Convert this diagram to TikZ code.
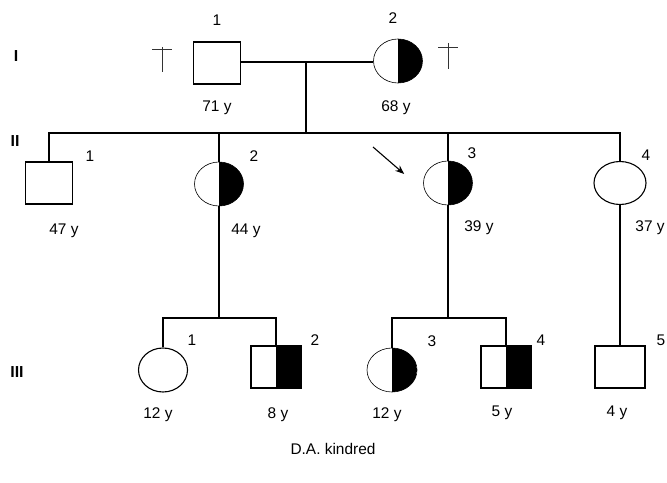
\documentclass[tikz,border=0pt]{standalone}
\usepackage{fontspec}
\setmainfont{Liberation Sans}
\usetikzlibrary{shapes.geometric,arrows.meta}
\tikzset{
  male/.style={draw,line width=1.3bp,minimum width=47bp,minimum height=42bp,inner sep=0pt},
  female/.style={draw,ellipse,line width=1.1bp,minimum width=49bp,minimum height=44bp,inner sep=0pt},
  carrier/.style={path picture={\fill[black] (path picture bounding box.north) rectangle (path picture bounding box.south east);}},
  thinrim/.style={line width=0.6bp},
  lbl/.style={inner sep=0pt,anchor=base,font=\fontsize{15.5}{18}\selectfont},
  gen/.style={inner sep=0pt,anchor=base,font=\fontsize{16}{18}\selectfont\bfseries},
  link/.style={line width=1.1bp},
  cross/.style={line width=0.7bp,black!80},
}
\begin{document}
\begin{tikzpicture}[x=1bp,y=-1bp]
            \useasboundingbox (0,0) rectangle (667,483);
            \node[male] (I1) at (217,63) {};
            \node[female,carrier,thinrim] (I2) at (398,61) {};
            \node[male] (II1) at (49,183) {};
            \node[female,carrier,thinrim] (II2) at (219,184) {};
            \node[female,carrier,thinrim] (II3) at (448,183) {};
            \node[female,minimum width=52bp,minimum height=43bp] (II4) at (620,183) {};
            \node[female] (III1) at (163,370) {};
            \node[male,carrier,minimum width=50bp] (III2) at (276,367) {};
            \node[female,carrier,thinrim,minimum width=50bp] (III3) at (392,370) {};
            \node[male,carrier,minimum width=50bp] (III4) at (506,367) {};
            \node[male,minimum width=50bp] (III5) at (620,367) {};
            \coordinate (mI) at (306,62);
            \coordinate (sII) at (306,133);
            \coordinate (sIIIa) at (219,318);
            \coordinate (sIIIb) at (448,318);
            \draw[link] (I1.east |- mI) -- (I2.west |- mI);
            \draw[link] (mI) -- (sII);
            \draw[link] (II1.north) -- (II1.north |- sII) -- (II4.north |- sII) -- (II4.north);
            \draw[link] (II2.north |- sII) -- (II2.north);
            \draw[link] (II3.north |- sII) -- (II3.north);
            \draw[link] (II2.south) -- (sIIIa);
            \draw[link] (II3.south) -- (sIIIb);
            \draw[link] (III1.north) -- (III1.north |- sIIIa) -- (III2.north |- sIIIa) -- (III2.north);
            \draw[link] (III3.north) -- (III3.north |- sIIIb) -- (III4.north |- sIIIb) -- (III4.north);
            \draw[link] (II4.south) -- (III5.north);
            \draw[link,-{Stealth[length=9bp,width=7bp]}] (373,147) -- ([shift={(-19,-9)}]II3.west);
            \draw[cross] (162,47) -- (162,72);
            \draw[cross] (152,49) -- (172,49);
            \draw[cross] (448,43) -- (448,69);
            \draw[cross] (438,47) -- (458,47);
            \node[gen] (gI) at (16,62) {I};
            \node[gen] (gII) at (15,147) {II};
            \node[gen] (gIII) at (17,377) {III};
            \node[lbl] (nI1) at (217,26) {1};
            \node[lbl] (nI2) at (393,24) {2};
            \node[lbl] (aI1) at (217,112) {71 y};
            \node[lbl] (aI2) at (396,112) {68 y};
            \node[lbl] (nII1) at (90,162) {1};
            \node[lbl] (nII2) at (254,162) {2};
            \node[lbl] (nII3) at (472,159) {3};
            \node[lbl] (nII4) at (646,161) {4};
            \node[lbl] (aII1) at (64,235) {47 y};
            \node[lbl] (aII2) at (246,235) {44 y};
            \node[lbl] (aII3) at (479,232) {39 y};
            \node[lbl] (aII4) at (650,232) {37 y};
            \node[lbl] (nIII1) at (192,345) {1};
            \node[lbl] (nIII2) at (315,345) {2};
            \node[lbl] (nIII3) at (432,346) {3};
            \node[lbl] (nIII4) at (541,345) {4};
            \node[lbl] (nIII5) at (661,345) {5};
            \node[lbl] (aIII1) at (158,418) {12 y};
            \node[lbl] (aIII2) at (278,418) {8 y};
            \node[lbl] (aIII3) at (387,418) {12 y};
            \node[lbl] (aIII4) at (502,416) {5 y};
            \node[lbl] (aIII5) at (617,416) {4 y};
            \node[lbl] (title) at (333,454) {D.A. kindred};
        \end{tikzpicture}
\end{document}
